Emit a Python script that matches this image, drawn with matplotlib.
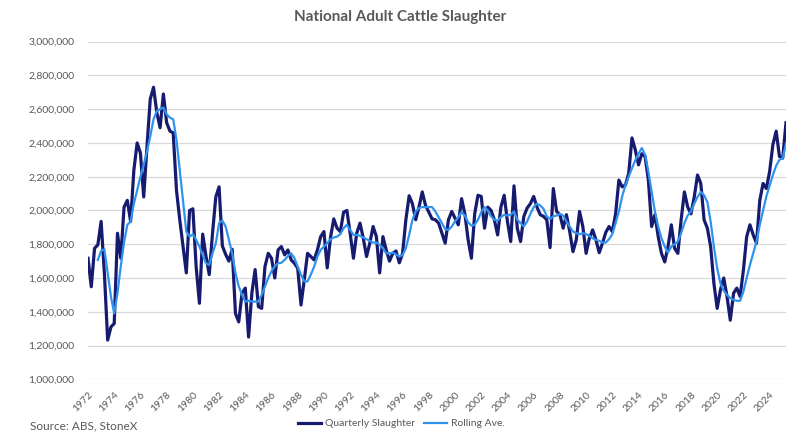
import matplotlib.pyplot as plt
import numpy as np
from matplotlib.ticker import FuncFormatter

plt.rcParams['font.family'] = ['Lato', 'DejaVu Sans']

# quarterly adult cattle slaughter ('000 head), from 1972 Q1
first_year = 1972
slaughter = [
    1717, 1548, 1776, 1796, 1935, 1628, 1232, 1310, 1330, 1865, 1717, 2020,
    2060, 1935, 2240, 2400, 2340, 2080, 2380, 2660, 2730, 2580, 2490, 2690,
    2520, 2470, 2460, 2120, 1945, 1790, 1630, 2000, 2010, 1667, 1450, 1860,
    1730, 1620, 1865, 2080, 2140, 1790, 1740, 1700, 1770, 1390, 1340, 1510,
    1540, 1250, 1510, 1650, 1430, 1420, 1667, 1746, 1717, 1600, 1766, 1786,
    1737, 1766, 1707, 1687, 1657, 1440, 1590, 1746, 1727, 1707, 1766, 1845,
    1875, 1660, 1840, 1950, 1895, 1875, 1990, 2000, 1865, 1717, 1865, 1925,
    1836, 1727, 1806, 1905, 1845, 1630, 1845, 1766, 1700, 1746, 1760, 1690,
    1746, 1945, 2087, 2040, 1945, 2020, 2110, 2030, 1990, 1950, 1945, 1925,
    1865, 1806, 1945, 1994, 1955, 1915, 2070, 1980, 1826, 1717, 1980, 2090,
    2083, 1895, 2020, 2000, 1945, 1855, 2020, 2090, 1935, 1816, 2146, 1895,
    1816, 1965, 2014, 2040, 2083, 2020, 1975, 1965, 1945, 1780, 2130, 1994,
    1975, 1895, 1975, 1875, 1756, 1826, 1994, 1905, 1746, 1836, 1885, 1826,
    1750, 1806, 1870, 1905, 1875, 1980, 2180, 2140, 2150, 2220, 2430, 2360,
    2270, 2336, 2320, 2180, 1905, 1975, 1845, 1746, 1695, 1786, 1915, 1776,
    1746, 1945, 2110, 2020, 1980, 2080, 2210, 2160, 1945, 1895, 1786, 1568,
    1420, 1530, 1600, 1490, 1350, 1510, 1540, 1490, 1647, 1845, 1915, 1855,
    1806, 2060, 2160, 2130, 2230, 2390, 2470, 2320, 2310, 2520,
]

# rolling average ('000 head), starts 1972 Q4
rolling_start = 3
rolling_ave = [
    1707, 1760, 1770, 1630, 1490, 1390, 1510, 1670, 1810, 1915, 1935, 2040,
    2120, 2200, 2270, 2350, 2440, 2540, 2590, 2600, 2610, 2570, 2550, 2540,
    2420, 2240, 2060, 1875, 1845, 1860, 1826, 1786, 1737, 1687, 1677, 1746,
    1806, 1925, 1940, 1905, 1826, 1746, 1630, 1550, 1500, 1460, 1465, 1460,
    1460, 1460, 1500, 1550, 1600, 1640, 1670, 1687, 1690, 1707, 1730, 1746,
    1717, 1667, 1620, 1580, 1580, 1620, 1667, 1727, 1766, 1786, 1806, 1830,
    1840, 1845, 1860, 1895, 1915, 1885, 1855, 1855, 1850, 1840, 1830, 1820,
    1810, 1810, 1796, 1776, 1746, 1746, 1750, 1740, 1727, 1737, 1776, 1855,
    1945, 1994, 2014, 2020, 2020, 2020, 2020, 1994, 1960, 1925, 1890, 1885,
    1905, 1935, 1960, 1990, 1970, 1930, 1910, 1915, 1945, 1990, 2020, 2000,
    1965, 1945, 1940, 1960, 1975, 1970, 1975, 1994, 1945, 1925, 1905, 1935,
    1980, 2020, 2040, 2030, 2010, 1965, 1950, 1965, 1970, 1980, 1970, 1935,
    1905, 1875, 1865, 1860, 1865, 1860, 1850, 1835, 1826, 1820, 1810, 1810,
    1830, 1860, 1925, 1994, 2083, 2150, 2200, 2250, 2297, 2336, 2370, 2330,
    2230, 2110, 1994, 1905, 1836, 1786, 1750, 1786, 1800, 1816, 1865, 1925,
    1970, 1994, 2040, 2080, 2110, 2090, 2050, 1935, 1786, 1657, 1568, 1525,
    1500, 1480, 1470, 1465, 1465, 1520, 1600, 1677, 1746, 1816, 1915, 2000,
    2083, 2146, 2210, 2265, 2300, 2310, 2396,
]

x = first_year + np.arange(len(slaughter)) / 4
x_roll = x[rolling_start:]

fig = plt.figure(figsize=(8, 4.41), dpi=100)
ax = fig.add_axes([0.11, 0.14, 0.8725, 0.7655])

ax.plot(x, slaughter, color='#161B70', lw=2.3, label='Quarterly Slaughter',
        solid_joinstyle='round')
ax.plot(x_roll, rolling_ave, color='#2F93EE', lw=1.6, label='Rolling Ave.',
        solid_joinstyle='round')

ax.set_ylim(1000, 3000)
ax.set_yticks(range(1000, 3001, 200))
ax.yaxis.set_major_formatter(FuncFormatter(lambda v, p: f'{int(round(v * 1000)):,}'))
ax.set_xlim(x[0], x[-1])
ax.set_xticks(range(1972, 2025, 2))
ax.grid(axis='y', color='#D9D9D9', lw=0.9)
ax.set_axisbelow(True)
for s in ax.spines.values():
    s.set_visible(False)
ax.tick_params(length=0, colors='#595959', labelsize=7.5)
ax.tick_params(axis='y', pad=10)
ax.tick_params(axis='x', pad=8)
for lbl in ax.get_xticklabels():
    lbl.set_rotation(45)
    lbl.set_ha('right')
    lbl.set_rotation_mode('anchor')

fig.text(0.5, 0.961, 'National Adult Cattle Slaughter', ha='center', va='center',
         fontsize=11, fontweight='bold', color='#595959')
fig.text(0.037, 0.027, 'Source: ABS, StoneX', fontsize=8.5, color='#595959')
fig.legend(loc='center', bbox_to_anchor=(0.502, 0.039), ncol=2, frameon=False,
           fontsize=7.5, handlelength=2.2, handletextpad=0.4, columnspacing=0.9,
           labelcolor='#595959')

fig.savefig('out.png', dpi=100)
